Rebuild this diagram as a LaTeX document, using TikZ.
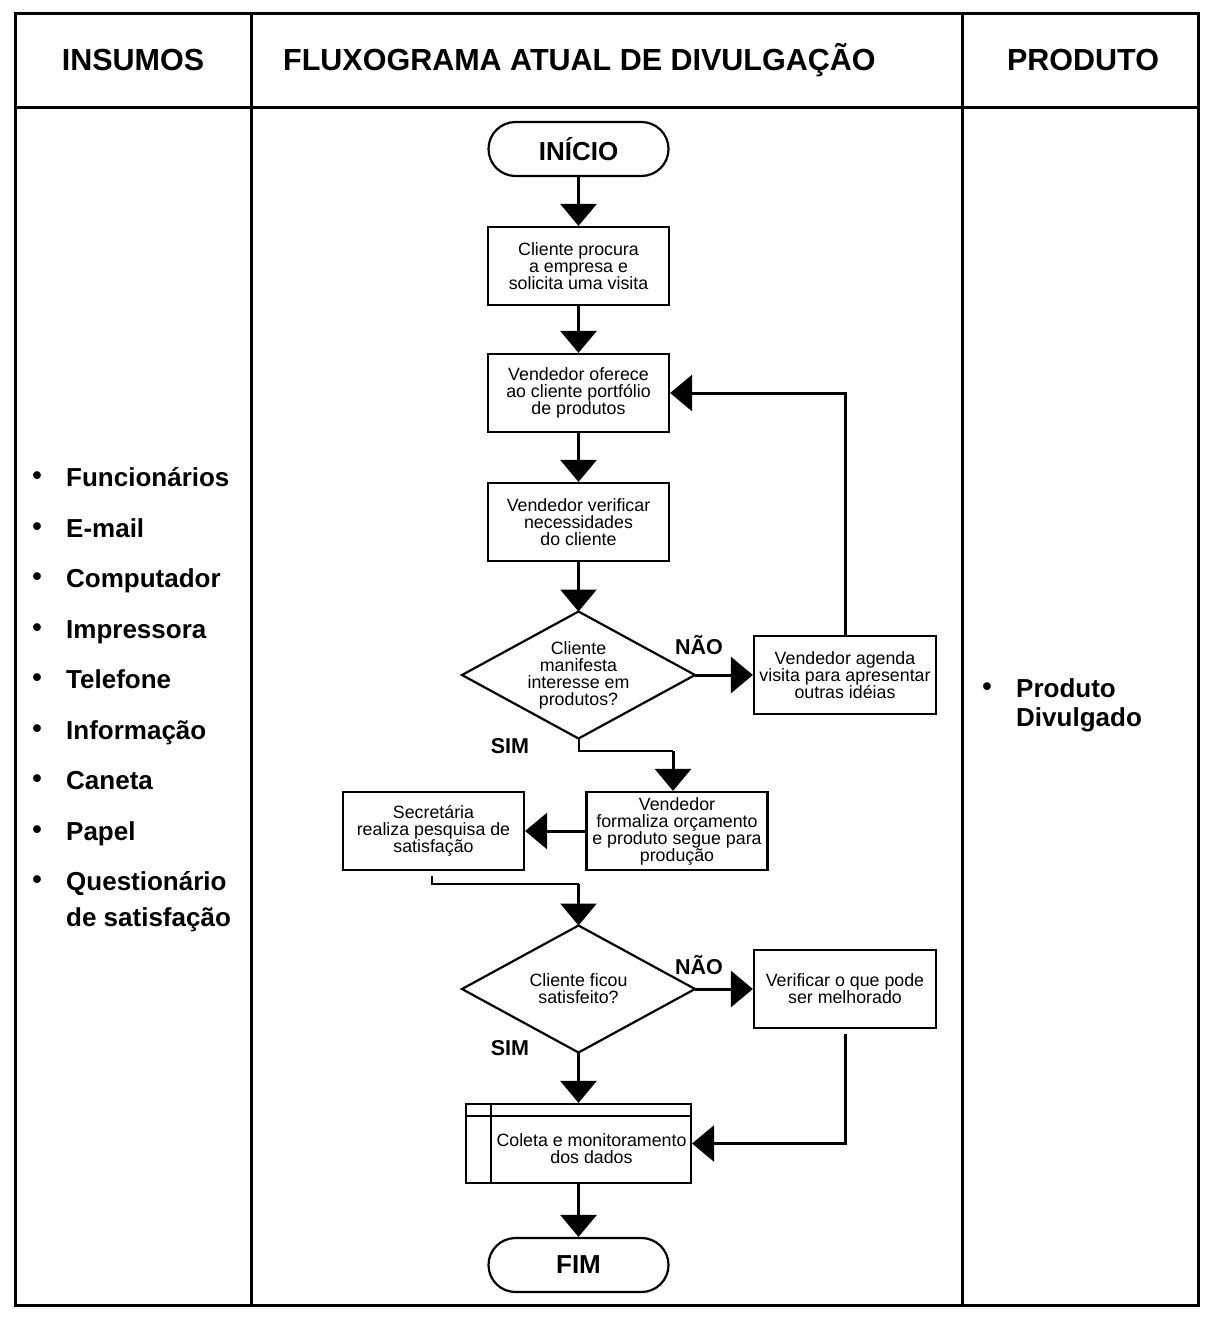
\documentclass[tikz,border=0pt]{standalone}
\usepackage{fontspec}
\setmainfont{Liberation Sans}
\usetikzlibrary{arrows.meta,shapes.geometric}
\begin{document}
\begin{tikzpicture}[x=1pt,y=-1pt,
  frame/.style={line width=3pt},
  box/.style={draw,line width=2.2pt,inner sep=0pt,minimum width=181pt,minimum height=78pt,align=center,font=\fontsize{17.8}{17}\selectfont},
  term/.style={draw,line width=2.2pt,rounded corners=27pt,minimum width=180pt,minimum height=54pt,inner sep=0pt,font=\fontsize{26}{28}\selectfont\bfseries},
  dia/.style={draw,diamond,line width=2.2pt,inner sep=0pt,outer sep=0pt,minimum width=233pt,minimum height=127pt},
  txt/.style={align=center,inner sep=0pt,font=\fontsize{17.8}{17}\selectfont},
  arr/.style={line width=3pt,-{Triangle[width=36pt,length=22pt]}},
  thinl/.style={line width=2pt},
  lab/.style={font=\fontsize{21.5}{22}\selectfont\bfseries,inner sep=0pt},
  head/.style={font=\fontsize{30.5}{32}\selectfont\bfseries,inner sep=0pt},
  item/.style={font=\fontsize{26}{36}\selectfont\bfseries,inner sep=0pt,anchor=base west,align=left},
  bul/.style={font=\fontsize{27}{27}\selectfont\bfseries,inner sep=0pt,anchor=base}
]
\useasboundingbox (0,0) rectangle (1214,1320);
% frame
\draw[frame] (15,13) rectangle (1198,1305);
\draw[frame] (15,107) -- (1198,107);
\draw[frame] (251,13) -- (251,1305);
\draw[frame] (962,13) -- (962,1305);
% headers
\node[head] (h1) at (133,60) {INSUMOS};
\node[head,anchor=west] (h2) at (283,60) {FLUXOGRAMA ATUAL DE DIVULGAÇÃO};
\node[head] (h3) at (1083,60) {PRODUTO};
% left list
\foreach \t/\yy [count=\i] in {Funcionários/477,E-mail/528,Computador/578,Impressora/629,Telefone/679,Informação/730,Caneta/780,Papel/831}{
  \node[bul] (lb\i) at (37,\yy+7) {•};
  \node[item] (li\i) at (66,\yy+9) {\t};
}
\node[bul] (lb9) at (37,888) {•};
\node[item] (li9) at (66,926) {Questionário\\de satisfação};
% right list
\node[bul] (rb1) at (987,695) {•};
\node[item,font=\fontsize{26}{29}\selectfont\bfseries] (ri1) at (1016,726) {Produto\\Divulgado};
% flowchart
\node[term] (ini) at (578.5,149) {INÍCIO};
\node[box] (b1) at (578.5,266) {Cliente procura\\a empresa e\\solicita uma visita};
\node[box] (b2) at (578.5,393) {Vendedor oferece\\ao cliente portfólio\\de produtos};
\node[box] (b3) at (578.5,522) {Vendedor verificar\\necessidades\\do cliente};
\node[dia] (d1) at (578.5,675) {};
\node[txt] (d1t) at (578.5,675) {Cliente\\manifesta\\interesse em\\produtos?};
\node[box,minimum width=182pt] (ag) at (845,675) {Vendedor agenda\\visita para apresentar\\outras idéias};
\node[box] (fo) at (677,831) {Vendedor\\formaliza orçamento\\e produto segue para\\produção};
\node[box] (se) at (433.5,831) {Secretária\\realiza pesquisa de\\satisfação};
\node[dia] (d2) at (578.5,989) {};
\node[txt] (d2t) at (578.5,989) {Cliente ficou\\satisfeito?};
\node[box,minimum width=182pt] (ve) at (845,989) {Verificar o que pode\\ser melhorado};
\node[draw,line width=2.2pt,minimum width=225pt,minimum height=79pt,inner sep=0pt] (co) at (578.5,1143.5) {};
\draw[line width=2.2pt] ([xshift=26pt]co.north west) -- ([xshift=26pt]co.south west);
\draw[line width=2.2pt] ([yshift=-13pt]co.north west) -- ([yshift=-13pt]co.north east);
\node[txt] (cot) at (591.5,1148.5) {Coleta e monitoramento\\dos dados};
\node[term] (fim) at (578.5,1265) {FIM};
% labels
\node[lab] (n1) at (699,645) {NÃO};
\node[lab] (s1) at (510,746) {SIM};
\node[lab] (n2) at (699,965) {NÃO};
\node[lab] (s2) at (510,1048) {SIM};
% connectors
\draw[arr] (ini) -- (b1);
\draw[arr] (b1) -- (b2);
\draw[arr] (b2) -- (b3);
\draw[arr] (b3) -- (d1.north);
\draw[arr] (d1.east) -- (ag.west);
\draw[arr] (ag.north) |- (b2.east);
\coordinate (k1) at (673,751);
\draw[thinl] (d1.south) |- (k1);
\draw[arr] (k1) -- (k1 |- fo.north);
\draw[arr] (fo.west) -- (se.east);
\coordinate (k2) at (578.5,884);
\coordinate (k3) at (432,876);
\draw[thinl] (k3) |- (k2);
\draw[arr] (k2) -- (d2.north);
\draw[arr] (d2.east) -- (ve.west);
\draw[arr] (d2.south) -- (co.north);
\draw[arr] ([yshift=-5pt]ve.south) |- (co.east);
\draw[arr] (co) -- (fim);
\end{tikzpicture}
\end{document}
